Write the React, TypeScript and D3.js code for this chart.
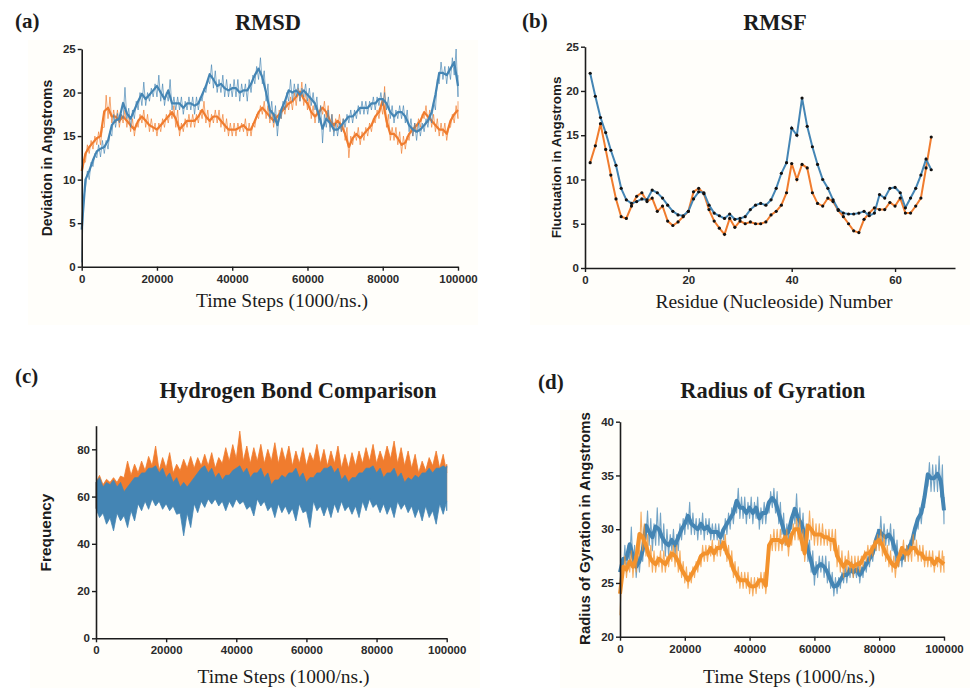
import { useEffect, useRef } from "react";
import * as d3 from "d3";

const W = 979;
const H = 688;
const BLUE = "#4485b4";
const ORANGE = "#f07c2e";
const ORANGE_D = "#f3922c";
const INK = "#1c1c1c";
const SANS = "Liberation Sans, Arial, sans-serif";
const SERIF = "Liberation Serif, Times New Roman, serif";

const TIME_TICKS = [0, 20000, 40000, 60000, 80000, 100000];
const RMSD_TICKS = [0, 5, 10, 15, 20, 25];
const RMSF_X_TICKS = [0, 20, 40, 60];
const RMSF_Y_TICKS = [0, 5, 10, 15, 20, 25];
const HB_TICKS = [0, 20, 40, 60, 80];
const ROG_TICKS = [20, 25, 30, 35, 40];

// envelopes sampled every 1000 steps (lo / hi of the noisy trace)
const STEP = 1000;
const RMSD_BLUE_LO = [0.5, 9, 10, 11.5, 12.5, 12.6, 13, 13.5, 15, 16, 16.5, 17, 17, 16, 17, 18, 18.5, 18.5, 19, 19.5, 19.5, 19, 18.5, 19, 18, 18, 18, 17.5, 18, 18, 17.5, 18, 19, 20, 21, 20.5, 20, 20, 19.5, 19.5, 19.5, 19.5, 19, 19.5, 19, 20, 21, 21.5, 21, 19, 17, 16.5, 15, 17, 18, 19, 19, 19.5, 19, 19.5, 19, 18.5, 18, 16.5, 14.2, 16, 15.5, 15, 15, 15.5, 16, 16.5, 16.5, 17, 17.5, 17.5, 17.5, 18, 18, 18.5, 18.5, 18, 17, 16.5, 17, 17, 16.5, 15.5, 15, 14.5, 15, 15.5, 16, 16.5, 18, 21, 21.5, 21, 21.5, 22, 19.5];
const RMSD_BLUE_HI = [8, 11, 12, 13, 14, 14.5, 14.5, 15.5, 17.5, 17.6, 17.5, 20.6, 18.2, 18, 19, 20, 21.2, 20, 20.5, 21, 22, 21, 20, 21.5, 19.5, 19.5, 19.5, 19, 19.5, 19.5, 19.5, 19.5, 20.5, 21.5, 23.2, 22.5, 21.5, 22, 21.5, 21, 21.5, 21.5, 21, 21, 21.5, 22, 23, 24, 22.5, 21, 19, 18.5, 17.5, 19, 20, 21.5, 21, 21, 20.5, 21, 20.5, 20, 19.5, 18.5, 17.5, 18, 17.5, 16.5, 16.5, 17, 17.5, 18, 18, 18.5, 19, 19, 19, 19.5, 19.5, 20, 20, 19.5, 18.5, 18, 18.5, 18.5, 18, 17, 16.5, 16.5, 16.5, 17, 17.5, 19, 21.5, 23.5, 23, 23, 24, 25, 22];
const RMSD_ORANGE_LO = [10, 12, 13, 13.5, 14, 14, 16, 17, 16.5, 16.5, 16, 16.5, 16, 15.5, 15, 16, 16.5, 16, 15.5, 15.5, 15, 15.5, 16, 16.5, 17, 16, 15, 15.5, 16, 16, 16, 16.5, 17, 16.5, 16, 16.5, 16.5, 16, 15.5, 15, 15, 15, 15.5, 15.5, 15, 15, 16, 17, 17.5, 17, 16.5, 16, 16.5, 17, 17.5, 18, 18, 18.5, 19, 18.5, 18, 17, 16.5, 17, 17.5, 17, 16, 15.5, 16, 15.5, 14.5, 12.5, 14, 14.5, 14, 14.5, 15, 15.5, 16.5, 17, 17.5, 16, 14.5, 14.5, 14, 13, 13.5, 14.5, 15, 15.5, 16, 17, 16.5, 16, 15.5, 15, 15, 14.5, 16, 16.5, 17];
const RMSD_ORANGE_HI = [12, 14, 14.5, 15, 15.5, 16, 19.7, 19.5, 18, 18, 17.5, 18, 17.5, 17, 16.5, 17.5, 18, 17.5, 17, 16.5, 16.5, 17, 17.5, 18, 18.5, 18, 16.5, 17, 17.5, 17.5, 17.5, 18, 19, 18, 17.5, 18, 18, 17.5, 17, 16.5, 16.5, 16.5, 16.5, 17, 16.5, 16.5, 17.5, 18.5, 19, 18.5, 18, 17.5, 18, 18.5, 19, 19.5, 20, 20.5, 21.2, 20, 19.5, 18.5, 18, 18.5, 19, 18.5, 17.5, 17, 17.5, 17, 16, 15, 15.5, 16, 15.5, 16, 16.5, 17, 18, 18.5, 20.7, 17.5, 16, 16, 15.5, 15, 15, 16, 16.5, 17, 17.5, 18.5, 18, 17.5, 17, 16.5, 16.5, 16, 17.5, 18.5, 19];

const ROG_BLUE_LO = [25, 26, 26, 27, 26.5, 25.5, 26, 27, 29, 28.5, 28, 28.5, 28.5, 28, 27.5, 27.5, 28, 27.5, 28, 29, 29.5, 30, 29.5, 29.5, 29, 29.5, 29, 29.5, 29, 29, 29, 28.5, 29, 29.5, 30, 30.5, 31.5, 31, 31, 30.5, 31, 30.5, 31, 30, 30.5, 30.5, 31.5, 32, 31.5, 30.5, 29.5, 28.5, 29, 30, 30.5, 30, 29.5, 28.5, 27, 26, 24.8, 25.5, 26, 25.5, 25, 24.5, 23.8, 24, 24.5, 25, 25, 25.5, 25.5, 25.5, 25, 25.5, 26, 26.5, 27, 28, 28.5, 28.5, 28.5, 28.5, 28, 27, 26.5, 26.5, 27, 27.5, 28, 29, 30, 30.5, 32, 34, 33.5, 33.5, 33.5, 33, 30.5];
const ROG_BLUE_HI = [27, 28.5, 28.5, 30.2, 28.5, 27.5, 28, 29, 31.7, 31, 30.5, 32, 31.5, 30.5, 30, 29.5, 30, 29.5, 30.5, 31, 31.5, 32.5, 31.5, 31, 31, 31.5, 31, 31, 30.5, 30.5, 30.5, 30, 31, 31.5, 32, 32.5, 33.8, 33, 33, 32.5, 33, 32.5, 33, 32, 32.5, 32.5, 33.5, 33.8, 33.5, 32.5, 31.5, 30.5, 30.5, 32, 33.3, 32, 31.5, 30.5, 29, 28, 27, 27.5, 27.5, 27.5, 27, 26, 25.5, 25.5, 26, 26.5, 26.5, 27, 26.5, 27, 26.5, 27, 27.5, 28, 28.5, 30, 31.2, 30.5, 30, 30.5, 30, 29, 28, 28, 28.5, 29, 29.5, 31, 32, 32.5, 34, 36.2, 36, 36, 36.8, 36, 33];
const ROG_ORANGE_LO = [22, 25.5, 25.5, 26, 25.5, 26, 27.5, 28, 27.5, 26.5, 26, 26, 26.5, 26, 26, 26.5, 27, 26.5, 26, 25.5, 25, 24.5, 25, 25.5, 26, 26.5, 27, 27, 27.5, 27, 27.5, 27.5, 28, 27, 26.5, 25.5, 25, 24.5, 24.5, 24.5, 24, 23.8, 24, 24.5, 24.5, 24, 27.5, 28, 28, 28, 28, 28.5, 27.5, 28.5, 29, 29, 28, 27, 29, 29, 28.5, 28.5, 28.5, 28.5, 28.5, 28, 28, 26.5, 26, 25.5, 26, 26, 25.5, 26, 26, 26.5, 27, 27, 27.5, 28, 28, 27.5, 27, 26.5, 26, 25.5, 26.5, 27.5, 27, 27, 27, 27.5, 27, 27, 26.5, 26.5, 26.5, 26, 26.5, 26, 26];
const ROG_ORANGE_HI = [26, 27.5, 27, 28, 27.5, 28.5, 31.6, 30.5, 29.5, 28.5, 28, 27.5, 28, 28, 27.5, 28, 28.5, 28.5, 28, 27, 26.5, 26, 26.5, 27, 27.5, 28.5, 28.5, 28.5, 29, 28.5, 29, 29, 29.5, 28.5, 28, 27, 26.5, 26, 26, 26, 25.5, 25.5, 25.5, 26, 26, 25.5, 29.5, 30, 30, 30, 29.5, 30, 29.5, 30.5, 31, 31, 30, 28.5, 31.7, 31, 30.5, 30.5, 30.5, 30, 30, 30, 30, 28.5, 28, 27.5, 28, 27.5, 27.5, 27.5, 27.5, 28, 28.5, 28.5, 29, 29.5, 30, 29.5, 28.5, 28, 27.5, 27.5, 28, 29, 28.5, 28.5, 29.5, 29, 28.5, 28.5, 28, 28, 28, 27.5, 28, 28, 27.5];

// hydrogen bond band edges, every 2000 steps
const HB_STEP = 2000;
const HB_ORANGE_HI = [69, 67.3, 68, 68.7, 75, 73.7, 75, 77, 81.4, 76.5, 78.6, 73.7, 75.8, 77, 76.5, 77.9, 78.6, 76.5, 80.7, 82, 87.7, 81.4, 80.7, 82.1, 80, 82.8, 80.7, 81.4, 79.3, 80.7, 78.6, 82.1, 80, 79.3, 81.4, 77.9, 78.6, 79.3, 80.7, 82.1, 79.3, 81.4, 83.5, 80.7, 79.3, 77.9, 75, 76.5, 79.3, 77.9, 73.7];
const HB_ORANGE_INNER = [66, 65, 66, 66, 68, 69, 70, 71, 73, 71, 72, 70, 71, 72, 72, 73, 73, 72, 74, 75, 76, 75, 74, 75, 74, 75, 74, 75, 73, 74, 73, 75, 74, 73, 74, 72, 72, 73, 74, 75, 74, 75, 76, 74, 73, 72, 70, 71, 73, 72, 70];
const HB_BLUE_PEAK = [68, 66, 67, 66, 64, 68, 70, 72, 73, 72, 70, 68, 66, 66, 70, 73, 72, 70, 69, 71, 73, 72, 70, 72, 70, 67, 69, 70, 72, 70, 68, 70, 72, 73, 72, 69, 68, 70, 72, 73, 72, 70, 72, 70, 68, 69, 70, 72, 72, 73, 73];
const HB_BLUE_HI = [66, 64, 65, 64, 62, 66, 68, 70, 72, 70, 68, 66, 64, 64, 68, 72, 70, 68, 67, 69, 72, 70, 68, 70, 68, 65, 67, 68, 70, 68, 66, 68, 70, 72, 70, 67, 66, 68, 70, 72, 70, 68, 70, 68, 66, 67, 68, 70, 70, 72, 72];
const HB_BLUE_INNER = [55, 53, 51, 53, 52, 54, 57, 58, 59, 58, 57, 56, 53, 53, 57, 58, 59, 59, 58, 58, 59, 58, 56, 59, 58, 56, 57, 56, 55, 57, 54, 58, 56, 56, 57, 58, 56, 56, 58, 59, 57, 57, 56, 58, 57, 56, 55, 56, 54, 57, 58];
const HB_BLUE_LO = [51.1, 48.3, 45.5, 49.7, 46.9, 49.7, 54, 54.6, 56, 54.6, 54, 52.5, 43.4, 46.9, 53.2, 55.4, 56.8, 56, 54, 55.4, 56.8, 54.6, 51.8, 56, 54, 51.1, 53.2, 52.5, 49.7, 53.2, 46.9, 54, 51.8, 51.1, 53.2, 54, 52.5, 51.1, 54, 55.4, 53.2, 52.5, 51.1, 54.6, 53.2, 51.1, 49.7, 51.1, 48.3, 52.5, 54];

// RMSF per residue 1..67
const RESIDUES = d3.range(1, 68);
const RMSF_BLUE = [22, 19.4, 17, 15.3, 13.3, 11.6, 9, 7.7, 7.3, 7.5, 7.8, 7.7, 8.8, 8.5, 7.9, 7.1, 6.4, 6, 5.9, 6.4, 7.8, 8.6, 8.5, 7.1, 6.2, 5.9, 5.6, 6.1, 5.5, 5.6, 5.8, 6.6, 7.1, 7.3, 7.1, 7.7, 9, 10.7, 11.9, 15.8, 15, 19.2, 16, 13.7, 11.7, 10, 9, 7.7, 6.6, 6.2, 6.1, 6.1, 6.2, 6.4, 5.9, 6.2, 8.3, 7.9, 9, 9.1, 8.5, 6.8, 7.9, 9, 10.5, 12.3, 11.1];
const RMSF_ORANGE = [11.9, 13.8, 16.3, 13.4, 10.5, 7.8, 5.8, 5.6, 7, 8.1, 8.5, 7.5, 7.9, 6.4, 7, 5.3, 4.8, 5.2, 5.8, 6.4, 8.6, 9, 8.4, 6.6, 5.3, 4.5, 3.8, 5.6, 4.6, 5.3, 5, 5.2, 5, 5, 5.2, 6, 6.4, 7.1, 8.5, 11.8, 10, 11.7, 11.3, 8.5, 7.3, 7, 7.9, 7.5, 6.5, 5.8, 5, 4.2, 4, 5.5, 6.2, 6.8, 6.6, 6.6, 7.4, 7, 7.9, 6.2, 6.2, 7, 7.9, 11.3, 14.8];

type Pt = [number, number];

// thin noisy trace: alternate between the low and high reading of each sample
function zigzag(lo: number[], hi: number[], step: number, max: number): Pt[] {
  const pts: Pt[] = [];
  lo.forEach((v, i) => {
    pts.push([i * step, v]);
    pts.push([Math.min(i * step + step / 2, max), hi[i]]);
  });
  return pts;
}

// core of the trace: centre of each sample's reading
function centre(lo: number[], hi: number[], step: number): Pt[] {
  return lo.map((v, i) => [i * step, (v + hi[i]) / 2] as Pt);
}

function Axis({ scale, orient, ticks, transform }: any) {
  const ref = useRef<SVGGElement>(null);
  useEffect(() => {
    const ax = (orient === "bottom" ? d3.axisBottom(scale) : d3.axisLeft(scale))
      .tickValues(ticks)
      .tickSizeInner(4)
      .tickSizeOuter(0)
      .tickPadding(orient === "bottom" ? 4 : 2)
      .tickFormat((d: any) => String(d));
    const g = d3.select(ref.current!);
    g.call(ax as any);
    g.attr("font-family", null).attr("font-size", null);
    g.select(".domain").attr("stroke", INK).attr("stroke-width", 1.6);
    g.selectAll(".tick line").attr("stroke", INK).attr("stroke-width", 1.4);
    g.selectAll(".tick text")
      .attr("fill", "#2a2a2a")
      .attr("font-family", SANS)
      .attr("font-weight", "bold")
      .attr("font-size", 11.5);
  }, [scale, orient, ticks]);
  return <g ref={ref} transform={transform} />;
}

function Texts({ label, lx, ly, title, tx, ty, xlabel, xx, xy, ylabel, yx, yy, ysize }: any) {
  return (
    <g fill={INK}>
      <text x={lx} y={ly} fontFamily={SERIF} fontWeight="bold" fontSize={21}>{label}</text>
      <text x={tx} y={ty} fontFamily={SERIF} fontWeight="bold" fontSize={22.5} textAnchor="middle">{title}</text>
      <text x={xx} y={xy} fontFamily={SERIF} fontSize={19.5} textAnchor="middle">{xlabel}</text>
      <text transform={`translate(${yx},${yy}) rotate(-90)`} fontFamily={SANS} fontWeight="bold" fontSize={ysize} textAnchor="middle" dy="0.35em">{ylabel}</text>
    </g>
  );
}

function Trace({ line, lo, hi, color, core, fuzz }: any) {
  return (
    <g fill="none" stroke={color} strokeLinejoin="round">
      <path d={line(zigzag(lo, hi, STEP, 100000)) ?? ""} strokeWidth={fuzz} strokeOpacity={0.75} />
      <path d={line(centre(lo, hi, STEP)) ?? ""} strokeWidth={core} />
    </g>
  );
}

export default function App() {
  // (a) RMSD
  const xA = d3.scaleLinear().domain([0, 100000]).range([81.7, 458]);
  const yA = d3.scaleLinear().domain([0, 25]).range([266.7, 49]);
  const lineA = d3.line<Pt>().x((d) => xA(d[0])).y((d) => yA(d[1]));

  // (b) RMSF
  const xB = d3.scaleLinear().domain([0, 71.6]).range([585, 955]);
  const yB = d3.scaleLinear().domain([0, 25]).range([268, 46.7]);
  const lineB = d3.line<number>().x((_, i) => xB(RESIDUES[i])).y((d) => yB(d));

  // (c) hydrogen bonds
  const xC = d3.scaleLinear().domain([0, 100000]).range([96, 446.7]);
  const yC = d3.scaleLinear().domain([0, 90]).range([638.3, 425.7]);
  const lineC = d3.line<Pt>().x((d) => xC(d[0])).y((d) => yC(d[1]));

  // (d) radius of gyration
  const xD = d3.scaleLinear().domain([0, 100000]).range([620, 944]);
  const yD = d3.scaleLinear().domain([20, 40]).range([636.7, 421.7]);
  const lineD = d3.line<Pt>().x((d) => xD(d[0])).y((d) => yD(d[1]));

  const hbT = (i: number) => i * HB_STEP;
  const hbMid = (i: number) => Math.min(i * HB_STEP + HB_STEP / 2, 100000);
  const orangeTop: Pt[] = HB_ORANGE_HI.flatMap((v, i) => [[hbT(i), HB_ORANGE_INNER[i]], [hbMid(i), v]] as Pt[]);
  const orangeBottom: Pt[] = HB_BLUE_INNER.map((v, i) => [hbT(i), v] as Pt);
  const blueTop: Pt[] = HB_BLUE_HI.flatMap((v, i) => [[hbT(i), v], [hbMid(i), HB_BLUE_PEAK[i]]] as Pt[]);
  const blueBottom: Pt[] = HB_BLUE_LO.flatMap((v, i) => [[hbT(i), HB_BLUE_INNER[i]], [hbMid(i), v]] as Pt[]);
  const band = (top: Pt[], bottom: Pt[]) => lineC([...top, ...bottom.slice().reverse()]) + "Z";

  return (
    <svg width={W} height={H} style={{ position: "absolute", left: 0, top: 0, background: "#fff" }}>
      <rect x={28} y={40} width={450} height={285} fill="#fffefa" />
      <rect x={530} y={40} width={440} height={285} fill="#fffefa" />
      <rect x={30} y={410} width={450} height={278} fill="#fffefa" />
      <rect x={560} y={410} width={410} height={278} fill="#fffefa" />

      {/* (a) */}
      <Trace line={lineA} lo={RMSD_ORANGE_LO} hi={RMSD_ORANGE_HI} color={ORANGE} core={2.2} fuzz={0.9} />
      <Trace line={lineA} lo={RMSD_BLUE_LO} hi={RMSD_BLUE_HI} color={BLUE} core={2.2} fuzz={0.9} />
      <Axis scale={xA} orient="bottom" ticks={TIME_TICKS} transform={`translate(0,${yA(0)})`} />
      <Axis scale={yA} orient="left" ticks={RMSD_TICKS} transform={`translate(${xA(0)},0)`} />
      <Texts label="(a)" lx={15} ly={28} title="RMSD" tx={268} ty={30} xlabel="Time Steps (1000/ns.)" xx={282} xy={307}
        ylabel="Deviation in Angstroms" yx={47.5} yy={158} ysize={14} />

      {/* (b) */}
      <path d={lineB(RMSF_ORANGE) ?? ""} fill="none" stroke={ORANGE} strokeWidth={2} />
      <path d={lineB(RMSF_BLUE) ?? ""} fill="none" stroke={BLUE} strokeWidth={2} />
      {RMSF_ORANGE.map((v, i) => <circle key={"o" + i} cx={xB(RESIDUES[i])} cy={yB(v)} r={1.6} fill="#111" />)}
      {RMSF_BLUE.map((v, i) => <circle key={"b" + i} cx={xB(RESIDUES[i])} cy={yB(v)} r={1.6} fill="#111" />)}
      <Axis scale={xB} orient="bottom" ticks={RMSF_X_TICKS} transform={`translate(0,${yB(0)})`} />
      <Axis scale={yB} orient="left" ticks={RMSF_Y_TICKS} transform={`translate(${xB(0)},0)`} />
      <Texts label="(b)" lx={522} ly={28} title="RMSF" tx={775} ty={29.5} xlabel="Residue (Nucleoside) Number" xx={774} xy={308}
        ylabel="Fluctuation in Angstroms" yx={556} yy={157.5} ysize={13.4} />

      {/* (c) */}
      <path d={band(orangeTop, orangeBottom)} fill={ORANGE} stroke={ORANGE} strokeWidth={0.8} strokeLinejoin="round" />
      <path d={band(blueTop, blueBottom)} fill={BLUE} stroke={BLUE} strokeWidth={0.8} strokeLinejoin="round" />
      <Axis scale={xC} orient="bottom" ticks={TIME_TICKS} transform={`translate(0,${yC(0)})`} />
      <Axis scale={yC} orient="left" ticks={HB_TICKS} transform={`translate(${xC(0)},0)`} />
      <Texts label="(c)" lx={15} ly={383} title="Hydrogen Bond Comparison" tx={298} ty={398} xlabel="Time Steps (1000/ns.)" xx={283.5} xy={683}
        ylabel="Frequency" yx={46} yy={532.5} ysize={15.4} />

      {/* (d) */}
      <Trace line={lineD} lo={ROG_BLUE_LO} hi={ROG_BLUE_HI} color={BLUE} core={4} fuzz={1.1} />
      <Trace line={lineD} lo={ROG_ORANGE_LO} hi={ROG_ORANGE_HI} color={ORANGE_D} core={4} fuzz={1.1} />
      <Axis scale={xD} orient="bottom" ticks={TIME_TICKS} transform={`translate(0,${yD(20)})`} />
      <Axis scale={yD} orient="left" ticks={ROG_TICKS} transform={`translate(${xD(0)},0)`} />
      <Texts label="(d)" lx={538} ly={389} title="Radius of Gyration" tx={772.7} ty={398} xlabel="Time Steps (1000/ns.)" xx={789} xy={683}
        ylabel="Radius of Gyration in Angstroms" yx={585} yy={528.5} ysize={14.9} />
    </svg>
  );
}
